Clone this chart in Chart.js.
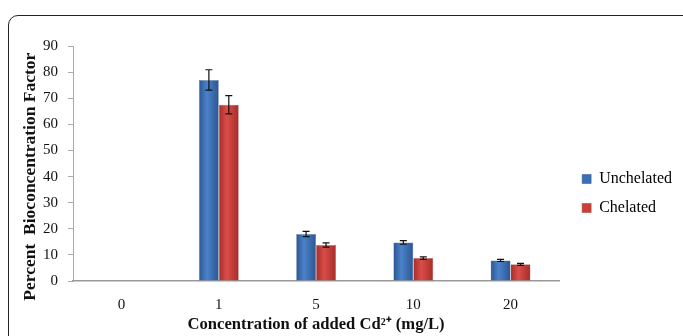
<!DOCTYPE html>
<html>
<head>
<meta charset="utf-8">
<script src="https://cdn.jsdelivr.net/npm/chart.js@4.4.1/dist/chart.umd.min.js"></script>
<style>
  html, body { margin: 0; padding: 0; background: #fff; }
  .wrap { position: relative; width: 683px; height: 336px; overflow: hidden; }
  .frame {
    position: absolute; left: 8px; top: 15px; width: 720px; height: 360px;
    border: 1px solid #222; border-radius: 10px; box-sizing: border-box;
  }
  canvas { position: absolute; left: 0; top: 0; }
</style>
</head>
<body>
<div class="wrap">
  <div class="frame"></div>
  <canvas id="graphic" width="683" height="336"></canvas>
</div>
<script>
const concentrations = ["0", "1", "5", "10", "20"];
const unchelated = [0, 77, 18, 14.8, 7.9];
const unchelatedErr = [0, 3.9, 1.0, 0.7, 0.4];
const chelated = [0, 67.5, 13.8, 8.8, 6.4];
const chelatedErr = [0, 3.5, 0.8, 0.5, 0.4];
const yTicks = [0, 10, 20, 30, 40, 50, 60, 70, 80, 90];

const groupShare = 0.41;

// horizontal shading so the bars look rounded like the original
const barFill = (edge, mid) => (context) => {
  const chart = context.chart;
  const xs = chart.scales.x;
  if (!xs || context.dataIndex === undefined) return mid;
  const cw = xs.width / concentrations.length;
  const bw = (cw * groupShare) / 2;
  const left = xs.getPixelForValue(context.dataIndex) - cw * groupShare / 2 + context.datasetIndex * bw;
  const g = chart.ctx.createLinearGradient(left, 0, left + bw, 0);
  g.addColorStop(0, edge);
  g.addColorStop(0.4, mid);
  g.addColorStop(1, edge);
  return g;
};

const errorBars = {
  id: "errorBars",
  afterDatasetsDraw(chart) {
    const { ctx, scales: { y } } = chart;
    ctx.save();
    ctx.strokeStyle = "#111";
    ctx.lineWidth = 1.2;
    chart.data.datasets.forEach((ds, i) => {
      chart.getDatasetMeta(i).data.forEach((bar, j) => {
        const err = ds.errors[j];
        if (!err) return;
        const top = y.getPixelForValue(ds.data[j] + err);
        const bot = y.getPixelForValue(ds.data[j] - err);
        const x = bar.x;
        ctx.beginPath();
        ctx.moveTo(x, top); ctx.lineTo(x, bot);
        ctx.moveTo(x - 3.5, top); ctx.lineTo(x + 3.5, top);
        ctx.moveTo(x - 3.5, bot); ctx.lineTo(x + 3.5, bot);
        ctx.stroke();
      });
    });
    ctx.restore();
  }
};

// nudge the legend a bit right/down, like the Excel original
const legendNudge = {
  id: "legendNudge",
  afterLayout(chart) {
    const lg = chart.legend;
    lg.left += 10; lg.right += 10;
    lg.top += 3; lg.bottom += 3;
  }
};

const serif = "'Liberation Serif', 'Times New Roman', serif";

const data = {
  labels: concentrations,
  datasets: [
    {
      label: "Unchelated",
      data: unchelated,
      errors: unchelatedErr,
      backgroundColor: barFill("#2b5692", "#4b82c9"),
      borderColor: "rgba(30,60,110,0.6)",
      borderWidth: 0.5,
    },
    {
      label: "Chelated",
      data: chelated,
      errors: chelatedErr,
      backgroundColor: barFill("#a62c29", "#d94e49"),
      borderColor: "rgba(120,30,30,0.6)",
      borderWidth: 0.5,
    },
  ],
};

const config = {
  type: "bar",
  data,
  plugins: [errorBars, legendNudge],
  options: {
    responsive: false,
    animation: false,
    barPercentage: 1,
    categoryPercentage: groupShare,
    layout: { padding: { left: 20, top: 46, right: 11, bottom: 1 } },
    plugins: {
      legend: {
        display: true,
        position: "right",
        labels: {
          font: { family: serif, size: 16 },
          color: "#111",
          boxWidth: 9,
          boxHeight: 9,
          padding: 13,
          generateLabels: (chart) => [
            { text: "Unchelated", fillStyle: "#3a6fb5", strokeStyle: "#2b5692", lineWidth: 0.5, datasetIndex: 0 },
            { text: "Chelated", fillStyle: "#c9403c", strokeStyle: "#a62c29", lineWidth: 0.5, datasetIndex: 1 },
          ],
        },
      },
      tooltip: { enabled: false },
    },
    scales: {
      x: {
        grid: { display: false, drawTicks: false },
        border: { color: "#999", width: 1.5 },
        ticks: { font: { family: serif, size: 15 }, color: "#111", padding: 15 },
        title: {
          display: true,
          text: "Concentration of added Cd²⁺ (mg/L)",
          font: { family: serif, size: 16.6, weight: "bold" },
          color: "#111",
          padding: { top: -14, bottom: 0 },
        },
      },
      y: {
        min: 0,
        max: 90,
        afterBuildTicks: (axis) => { axis.ticks = yTicks.map((v) => ({ value: v })); },
        grid: { drawOnChartArea: false, tickLength: 5, color: "#aaa" },
        border: { color: "#aaa" },
        ticks: { font: { family: serif, size: 15 }, color: "#111", padding: 10 },
        title: {
          display: true,
          text: "Percent  Bioconcentration Factor      ",
          font: { family: serif, size: 17.5, weight: "bold" },
          color: "#111",
          padding: { top: 0, bottom: -8 },
        },
      },
    },
  },
};

const ctx = document.getElementById("graphic").getContext("2d");
new Chart(ctx, config);
</script>
</body>
</html>
